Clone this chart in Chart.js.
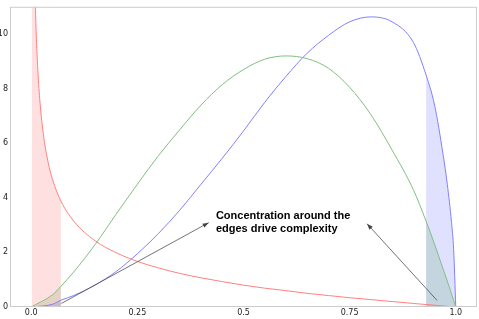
<!DOCTYPE html>
<html><head><meta charset="utf-8">
<script src="https://cdn.jsdelivr.net/npm/chart.js@4.4.1/dist/chart.umd.min.js"></script>
<style>html,body{margin:0;padding:0;background:#fff;}canvas{display:block;}</style>
</head><body>
<canvas id="c" width="479" height="319"></canvas>
<script>
// ---- data ----
const redX   = [0.001,0.004,0.006,0.01,0.015,0.02,0.03,0.04,0.05,0.07,0.1,0.15,0.2,0.25,0.3,0.35,0.4,0.45,0.5,0.55,0.6,0.65,0.7,0.75,0.8,0.85,0.9,0.93,0.95,0.97,1.0];
const redY   = [34.8,17.4,14.2,10.9,8.85,7.63,6.17,5.29,4.68,3.88,3.15,2.43,1.99,1.67,1.43,1.23,1.07,0.93,0.80,0.69,0.60,0.50,0.42,0.34,0.27,0.20,0.13,0.09,0.065,0.04,0];
const curveX = [0,0.05,0.07,0.1,0.15,0.2,0.25,0.3,0.35,0.4,0.45,0.5,0.55,0.6,0.65,0.7,0.75,0.8,0.85,0.9,0.93,0.95,0.97,0.98,0.99,0.995,1.0];
const greenY = [0,0.45,0.76,1.28,2.28,3.4,4.5,5.55,6.5,7.4,8.15,8.7,9.08,9.2,9.1,8.75,8.05,7.05,5.75,4.3,3.15,2.3,1.4,0.95,0.48,0.24,0];
const blueY  = [0,0.1,0.25,0.42,0.8,1.3,1.95,2.7,3.55,4.5,5.45,6.45,7.5,8.45,9.3,9.95,10.45,10.63,10.45,9.7,8.5,7.4,5.6,4.5,3.1,2.1,0];
const edgeLow = 0.07, edgeHigh = 0.93;
const xTickValues = [0,0.25,0.5,0.75,1.0];
const xTickLabels = ['0.0','0.25','0.5','0.75','1.0'];
const yTickValues = [0,2,4,6,8,10];
const yTickLabels = ['0','2','4','6','8','10'];
const noteLines = ['Concentration around the','edges drive complexity'];
const noteX = 0.435, noteY = [3.33, 2.85];
const arrowFrom = [[0.071,0.13],[0.956,0.24]];
const arrowTo   = [[0.418,3.09],[0.791,3.05]];

// ---- build ----
function pts(xs, ys, f){ const out=[]; xs.forEach((v,i)=>{ if(!f||f(v)) out.push({x:v,y:ys[i]}); }); return out; }
const lineCfg = (label, data, color) => ({label, data, borderColor:color, borderWidth:1, pointRadius:0, fill:false, cubicInterpolationMode:'monotone', order:0});
const fillCfg = (data, color) => ({data, borderWidth:0, borderColor:'rgba(0,0,0,0)', backgroundColor:color, pointRadius:0, fill:'origin', cubicInterpolationMode:'monotone', order:1});
const lowF = v => v <= edgeLow, highF = v => v >= edgeHigh;
const RF='rgba(255,0,0,0.12)', GF='rgba(0,128,0,0.12)', BF='rgba(0,0,255,0.12)';

const framePlugin = {
  id:'frame',
  afterDatasetsDraw(chart){
    const {ctx, chartArea:a, scales:{x, y}} = chart;
    ctx.save();
    arrowFrom.forEach((f,i)=>{
      const t = arrowTo[i];
      const x1=x.getPixelForValue(f[0]), y1=y.getPixelForValue(f[1]);
      const x2=x.getPixelForValue(t[0]), y2=y.getPixelForValue(t[1]);
      ctx.strokeStyle='rgba(70,70,70,0.75)'; ctx.lineWidth=1;
      ctx.beginPath(); ctx.moveTo(x1,y1); ctx.lineTo(x2,y2); ctx.stroke();
      const ang=Math.atan2(y2-y1,x2-x1), L=6, W=2.2;
      ctx.fillStyle='#444';
      ctx.beginPath(); ctx.moveTo(x2,y2);
      ctx.lineTo(x2-L*Math.cos(ang)+W*Math.sin(ang), y2-L*Math.sin(ang)-W*Math.cos(ang));
      ctx.lineTo(x2-L*Math.cos(ang)-W*Math.sin(ang), y2-L*Math.sin(ang)+W*Math.cos(ang));
      ctx.closePath(); ctx.fill();
    });
    ctx.font='bold 11px "Liberation Sans", Arial, sans-serif';
    ctx.fillStyle='#000'; ctx.textBaseline='middle'; ctx.textAlign='left';
    noteLines.forEach((t,i)=>ctx.fillText(t, x.getPixelForValue(noteX), y.getPixelForValue(noteY[i])));
    ctx.strokeStyle='#cccccc'; ctx.lineWidth=1;
    ctx.strokeRect(a.left+0.5, a.top+0.5, a.right-a.left-1, a.bottom-a.top-1);
    ctx.restore();
  }
};

new Chart(document.getElementById('c'), {
  type:'line',
  data:{datasets:[
    lineCfg('red', pts(redX, redY), '#ff8080'),
    lineCfg('green', pts(curveX, greenY), '#80bf80'),
    lineCfg('blue', pts(curveX, blueY), '#8080ff'),
    fillCfg(pts(redX, redY, lowF), RF),
    fillCfg(pts(redX, redY, highF), RF),
    fillCfg(pts(curveX, greenY, lowF), GF),
    fillCfg(pts(curveX, greenY, highF), GF),
    fillCfg(pts(curveX, blueY, lowF), BF),
    fillCfg(pts(curveX, blueY, highF), BF)
  ]},
  options:{
    responsive:false, devicePixelRatio:1, animation:false,
    layout:{padding:{top:4,right:2,left:0,bottom:0}},
    plugins:{legend:{display:false}, tooltip:{enabled:false}},
    scales:{
      x:{type:'linear', min:-0.05, max:1.05,
        grid:{display:false, drawTicks:false}, border:{display:false},
        afterBuildTicks:s=>{s.ticks=xTickValues.map(v=>({value:v}));},
        afterFit:s=>{s.height=12;},
        ticks:{padding:1, color:'#222', font:{family:'"DejaVu Sans"', size:8}, maxRotation:0,
          callback:(v)=>{const i=xTickValues.indexOf(v); return i>=0?xTickLabels[i]:'';}}},
      y:{type:'linear', min:0, max:11,
        grid:{display:false, drawTicks:false}, border:{display:false},
        afterBuildTicks:s=>{s.ticks=yTickValues.map(v=>({value:v}));},
        afterFit:s=>{s.width=10;},
        ticks:{padding:2, color:'#222', font:{family:'"DejaVu Sans"', size:8},
          callback:(v)=>{const i=yTickValues.indexOf(v); return i>=0?yTickLabels[i]:'';}}}
    }
  },
  plugins:[framePlugin]
});
</script>
</body></html>
